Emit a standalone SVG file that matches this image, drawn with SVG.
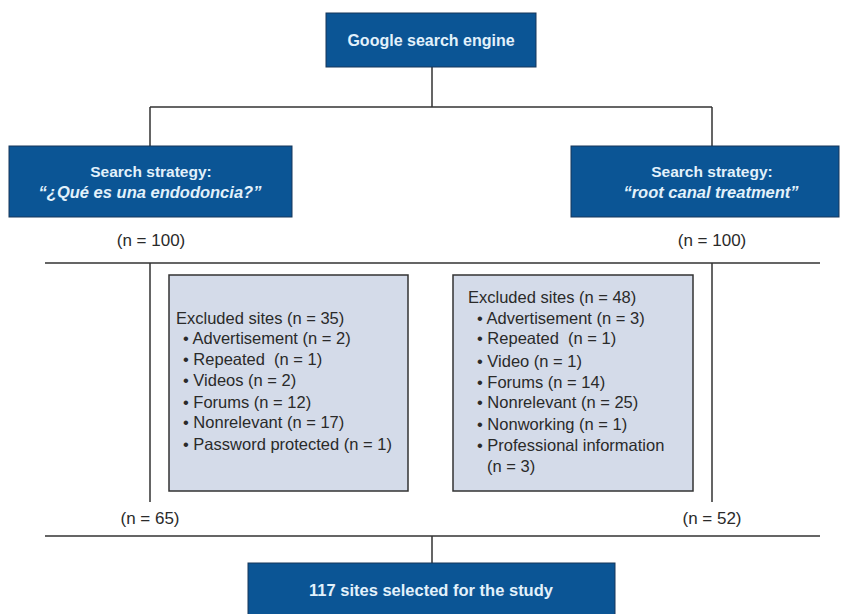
<svg xmlns="http://www.w3.org/2000/svg" width="842" height="614" viewBox="0 0 842 614">
<style>
.blue{fill:#0b5595;stroke:#17375a;stroke-width:1}
.gray{fill:#d4dbe9;stroke:#333;stroke-width:1.5}
.bt{font-family:"Liberation Sans",Arial,sans-serif;font-weight:bold;fill:#e2f1fb;text-anchor:middle}
.it{font-style:italic;font-size:16.5px}
.t{font-family:"Liberation Sans",Arial,sans-serif;font-size:16.5px;fill:#2a2a2a;white-space:pre}
.n{font-family:"Liberation Sans",Arial,sans-serif;font-size:17px;fill:#2a2a2a;text-anchor:middle}
.ln{stroke:#333;stroke-width:1.5;fill:none}
</style>
<rect width="842" height="614" fill="#fff"/>
<g id="connectors">
<path class="ln" d="M432 67V107M150 107H712M150 107V146M712 107V146"/>
<path class="ln" d="M45 263H820M150 263V502M712 263V502"/>
<path class="ln" d="M45 536H820M432 536V563"/>
</g>
<g id="google">
<rect class="blue" x="326" y="13" width="210" height="54"/>
<text class="bt" x="431" y="46" font-size="16">Google search engine</text>
</g>
<g id="strategy-es">
<rect class="blue" x="9" y="146" width="283" height="71"/>
<text class="bt" x="151" y="177" font-size="15.5">Search strategy:</text>
<text class="bt it" x="150" y="198">“¿Qué es una endodoncia?”</text>
</g>
<g id="strategy-en">
<rect class="blue" x="571" y="146" width="268" height="71"/>
<text class="bt" x="712" y="177" font-size="15.5">Search strategy:</text>
<text class="bt it" x="711" y="198">“root canal treatment”</text>
</g>
<g id="n100-left"><text class="n" x="151" y="246">(n = 100)</text></g>
<g id="n100-right"><text class="n" x="712" y="246">(n = 100)</text></g>
<g id="excluded-es">
<rect class="gray" x="169" y="275" width="239" height="216"/>
<text class="t" x="176" y="324">Excluded sites (n = 35)</text>
<text class="t" x="183" y="344">• Advertisement (n = 2)</text>
<text class="t" x="183" y="365">• Repeated  (n = 1)</text>
<text class="t" x="183" y="386">• Videos (n = 2)</text>
<text class="t" x="183" y="408">• Forums (n = 12)</text>
<text class="t" x="183" y="428">• Nonrelevant (n = 17)</text>
<text class="t" x="183" y="450">• Password protected (n = 1)</text>
</g>
<g id="excluded-en">
<rect class="gray" x="453" y="275" width="240" height="216"/>
<text class="t" x="468" y="303">Excluded sites (n = 48)</text>
<text class="t" x="477" y="324">• Advertisement (n = 3)</text>
<text class="t" x="477" y="344">• Repeated  (n = 1)</text>
<text class="t" x="477" y="367">• Video (n = 1)</text>
<text class="t" x="477" y="388">• Forums (n = 14)</text>
<text class="t" x="477" y="408">• Nonrelevant (n = 25)</text>
<text class="t" x="477" y="430">• Nonworking (n = 1)</text>
<text class="t" x="477" y="451">• Professional information</text>
<text class="t" x="487" y="472">(n = 3)</text>
</g>
<g id="n65"><text class="n" x="150" y="524">(n = 65)</text></g>
<g id="n52"><text class="n" x="712" y="524">(n = 52)</text></g>
<g id="selected">
<rect class="blue" x="248" y="563" width="367" height="60"/>
<text class="bt" x="431" y="596" font-size="16.5">117 sites selected for the study</text>
</g>
</svg>
